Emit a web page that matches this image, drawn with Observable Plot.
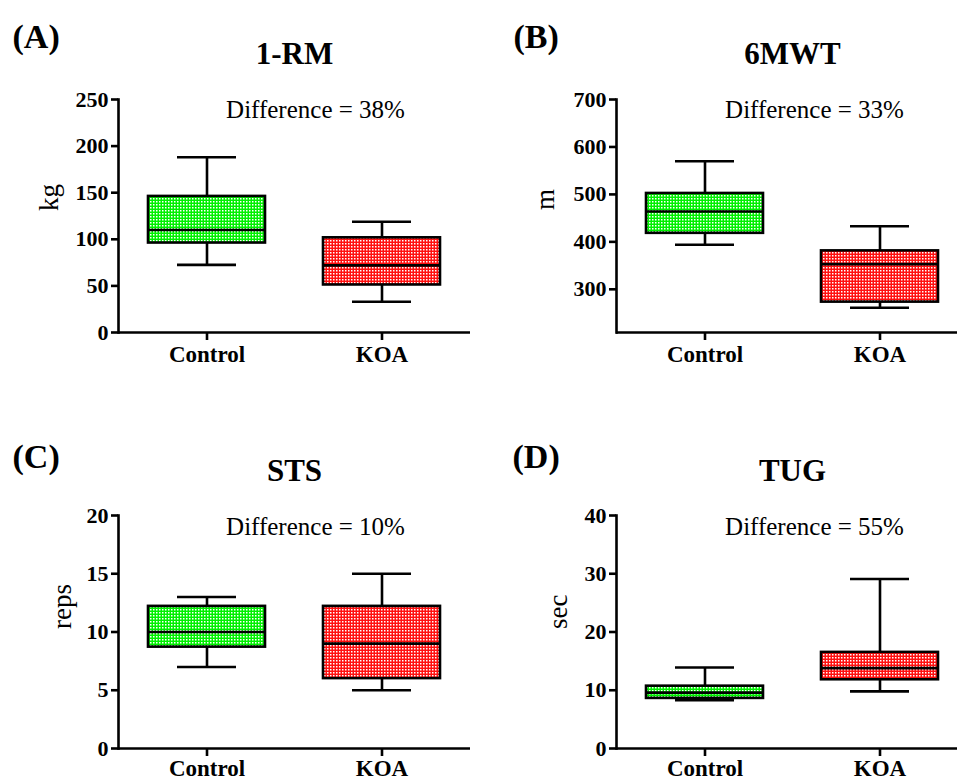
<!DOCTYPE html>
<html><head><meta charset="utf-8">
<script src="https://cdn.jsdelivr.net/npm/d3@7"></script>
<script src="https://cdn.jsdelivr.net/npm/@observablehq/plot@0.6"></script>
<style>
body{margin:0;background:#fff;}
#wrap{position:relative;width:957px;height:780px;overflow:hidden;background:#fff;}
.panel{position:absolute;overflow:visible;}
.panel svg{font-family:"Liberation Serif","Times New Roman",serif !important;overflow:visible;max-width:none !important;}
.panel svg text{font-family:"Liberation Serif","Times New Roman",serif !important;}
</style></head><body>
<svg width="0" height="0" style="position:absolute;left:0;top:0">
<defs>
<pattern id="gp" width="3" height="3" patternUnits="userSpaceOnUse"><rect width="3" height="3" fill="#00f000"/><rect width="1.5" height="1.5" fill="#ffffff"/></pattern>
<pattern id="rp" width="3" height="3" patternUnits="userSpaceOnUse"><rect width="3" height="3" fill="#ff1010"/><rect width="1.5" height="1.5" fill="#ffffff"/></pattern>
</defs></svg>
<div id="wrap"></div>
<script>
const groups = ["Control", "KOA"];

// (A) 1-RM, kg
const rmLow  = [72.6, 33];
const rmQ1   = [96, 51];
const rmMed  = [110, 72];
const rmQ3   = [146, 101.6];
const rmHigh = [188, 118.8];
const rmTicks = [0, 50, 100, 150, 200, 250];

// (B) 6MWT, m
const mwLow  = [394, 261];
const mwQ1   = [418, 273];
const mwMed  = [464, 353];
const mwQ3   = [502, 381];
const mwHigh = [570, 433];
const mwTicks = [300, 400, 500, 600, 700];

// (C) STS, reps
const stsLow  = [7, 5];
const stsQ1   = [8.7, 6];
const stsMed  = [10, 9];
const stsQ3   = [12.2, 12.2];
const stsHigh = [13, 15];
const stsTicks = [0, 5, 10, 15, 20];

// (D) TUG, sec
const tugLow  = [8.3, 9.8];
const tugQ1   = [8.6, 11.8];
const tugMed  = [9.6, 13.8];
const tugQ3   = [10.7, 16.5];
const tugHigh = [13.9, 29.1];
const tugTicks = [0, 10, 20, 30, 40];

const panels = [
  {tag:"(A)", title:"1-RM", diff:"Difference = 38%", unit:"kg", domain:[0,250], ticks:rmTicks,
   lo:rmLow, q1:rmQ1, med:rmMed, q3:rmQ3, hi:rmHigh,
   left:0, top:0, width:478, height:390, ml:118, mr:8, mt:99, mb:58, xPad:5,
   tagDx:-106, tagDy:-52, titleDy:-36, diffDx:21, diffDy:18, unitDx:-69, unitDy:-5},
  {tag:"(B)", title:"6MWT", diff:"Difference = 33%", unit:"m", domain:[209,700], ticks:mwTicks,
   lo:mwLow, q1:mwQ1, med:mwMed, q3:mwQ3, hi:mwHigh,
   left:478, top:0, width:490, height:390, ml:138, mr:0, mt:99, mb:58, xPad:5,
   tagDx:-103, tagDy:-52, titleDy:-36, diffDx:22, diffDy:18, unitDx:-71, unitDy:-6},
  {tag:"(C)", title:"STS", diff:"Difference = 10%", unit:"reps", domain:[0,20], ticks:stsTicks,
   lo:stsLow, q1:stsQ1, med:stsMed, q3:stsQ3, hi:stsHigh,
   left:0, top:390, width:478, height:390, ml:118, mr:8, mt:125, mb:32, xPad:3,
   tagDx:-106, tagDy:-48, titleDy:-35, diffDx:21, diffDy:19, unitDx:-56, unitDy:-3},
  {tag:"(D)", title:"TUG", diff:"Difference = 55%", unit:"sec", domain:[0,40], ticks:tugTicks,
   lo:tugLow, q1:tugQ1, med:tugMed, q3:tugQ3, hi:tugHigh,
   left:478, top:390, width:490, height:390, ml:138, mr:0, mt:125, mb:32, xPad:3,
   tagDx:-104, tagDy:-48, titleDy:-35, diffDx:22, diffDy:19, unitDx:-58, unitDy:-3}
];

const wrap = document.getElementById("wrap");
const SW = 2.6;
const FF = "Liberation Serif";

for (const p of panels) {
  const rows = groups.map((g, i) => ({group: g, lo: p.lo[i], q1: p.q1[i], med: p.med[i], q3: p.q3[i], hi: p.hi[i]}));
  const chart = Plot.plot({
    width: p.width, height: p.height,
    marginLeft: p.ml, marginRight: p.mr, marginTop: p.mt, marginBottom: p.mb,
    style: {fontFamily: FF, background: "transparent", color: "black", maxWidth: "none"},
    x: {type: "band", domain: groups, paddingInner: 0.33, paddingOuter: 0.17},
    y: {domain: p.domain},
    color: {type: "ordinal", domain: groups, range: ["url(#gp)", "url(#rp)"]},
    marks: [
      Plot.ruleX(rows, {x: "group", y1: "lo", y2: "hi", stroke: "black", strokeWidth: SW}),
      Plot.tickY(rows, {x: "group", y: "lo", insetLeft: 29, insetRight: 29, stroke: "black", strokeWidth: SW}),
      Plot.tickY(rows, {x: "group", y: "hi", insetLeft: 29, insetRight: 29, stroke: "black", strokeWidth: SW}),
      Plot.barY(rows, {x: "group", y1: "q1", y2: "q3", fill: "group", stroke: "black", strokeWidth: SW}),
      Plot.tickY(rows, {x: "group", y: "med", stroke: "black", strokeWidth: SW}),
      Plot.axisY({ticks: p.ticks, tickSize: 7, tickPadding: 3, fontSize: 22, fontWeight: "bold", fontFamily: FF, strokeWidth: SW, label: null}),
      Plot.axisX({tickSize: 8, tickPadding: p.xPad, fontSize: 23, fontWeight: "bold", fontFamily: FF, strokeWidth: SW, label: null}),
      Plot.frame({anchor: "left", stroke: "black", strokeWidth: SW}),
      Plot.ruleY([p.domain[0]], {stroke: "black", strokeWidth: SW}),
      Plot.text([p.tag], {text: d => d, frameAnchor: "top-left", textAnchor: "start", lineAnchor: "bottom", dx: p.tagDx, dy: p.tagDy, fontSize: 34, fontWeight: "bold", fontFamily: FF}),
      Plot.text([p.title], {text: d => d, frameAnchor: "top", lineAnchor: "bottom", dy: p.titleDy, fontSize: 31, fontWeight: "bold", fontFamily: FF}),
      Plot.text([p.diff], {text: d => d, frameAnchor: "top", lineAnchor: "bottom", dx: p.diffDx, dy: p.diffDy, fontSize: 25, fontFamily: FF}),
      Plot.text([p.unit], {text: d => d, frameAnchor: "left", rotate: -90, lineAnchor: "middle", dx: p.unitDx, dy: p.unitDy, fontSize: 27, fontFamily: FF})
    ]
  });
  const div = document.createElement("div");
  div.className = "panel";
  div.style.left = p.left + "px";
  div.style.top = p.top + "px";
  div.style.width = p.width + "px";
  div.style.height = p.height + "px";
  div.appendChild(chart);
  wrap.appendChild(div);
}
</script>
</body></html>
